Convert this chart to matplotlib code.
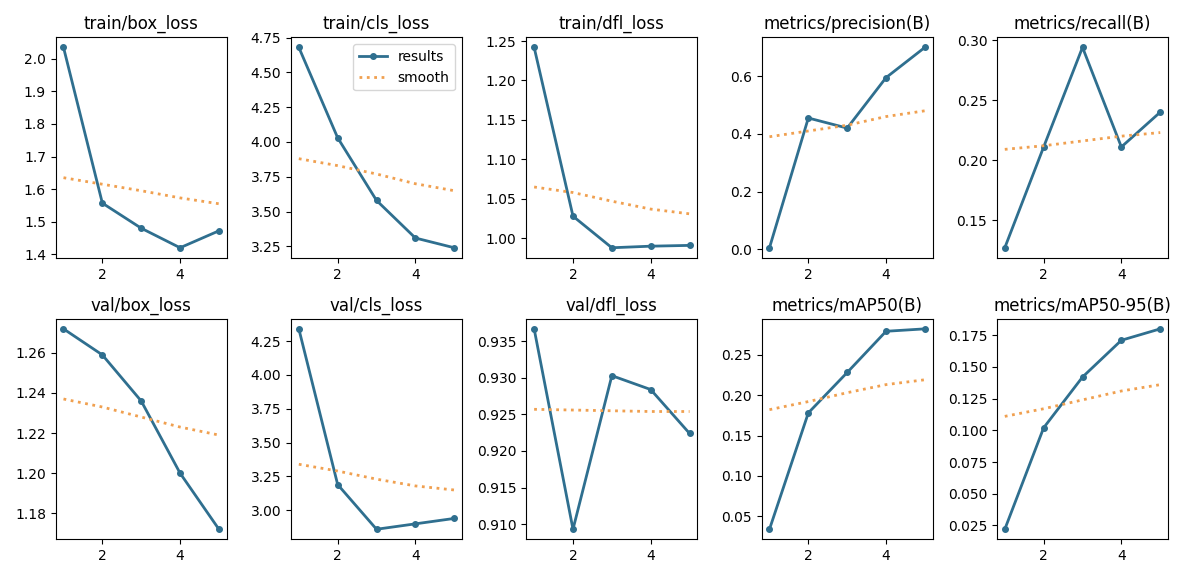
import matplotlib
matplotlib.use("Agg")
import matplotlib.pyplot as plt

epochs = [1, 2, 3, 4, 5]

titles = ["train/box_loss", "train/cls_loss", "train/dfl_loss",
          "metrics/precision(B)", "metrics/recall(B)",
          "val/box_loss", "val/cls_loss", "val/dfl_loss",
          "metrics/mAP50(B)", "metrics/mAP50-95(B)"]

train_box = [2.035, 1.557, 1.480, 1.420, 1.472]
train_cls = [4.68, 4.03, 3.58, 3.31, 3.24]
train_dfl = [1.242, 1.028, 0.988, 0.990, 0.991]
precision = [0.005, 0.455, 0.420, 0.595, 0.700]
recall = [0.127, 0.211, 0.294, 0.211, 0.240]
val_box = [1.272, 1.259, 1.236, 1.200, 1.172]
val_cls = [4.34, 3.19, 2.86, 2.90, 2.94]
val_dfl = [0.9367, 0.9093, 0.9303, 0.9284, 0.9224]
map50 = [0.034, 0.178, 0.228, 0.279, 0.282]
map5095 = [0.022, 0.102, 0.142, 0.171, 0.180]

# smoothed curves
s_train_box = [1.635, 1.615, 1.595, 1.573, 1.555]
s_train_cls = [3.88, 3.83, 3.77, 3.70, 3.65]
s_train_dfl = [1.065, 1.058, 1.047, 1.037, 1.031]
s_precision = [0.39, 0.41, 0.43, 0.46, 0.48]
s_recall = [0.209, 0.212, 0.216, 0.220, 0.223]
s_val_box = [1.237, 1.233, 1.228, 1.223, 1.219]
s_val_cls = [3.34, 3.29, 3.23, 3.18, 3.15]
s_val_dfl = [0.9257, 0.9256, 0.9255, 0.9254, 0.9254]
s_map50 = [0.182, 0.192, 0.203, 0.213, 0.219]
s_map5095 = [0.111, 0.117, 0.124, 0.131, 0.136]

series = [train_box, train_cls, train_dfl, precision, recall,
          val_box, val_cls, val_dfl, map50, map5095]
smooth = [s_train_box, s_train_cls, s_train_dfl, s_precision, s_recall,
          s_val_box, s_val_cls, s_val_dfl, s_map50, s_map5095]

fig, ax = plt.subplots(2, 5, figsize=(11.83, 5.78), dpi=100, tight_layout=True)
ax = ax.ravel()
for i in range(10):
    ax[i].plot(epochs, series[i], marker=".", label="results", linewidth=2,
               markersize=8, color="#2f6f8f")
    ax[i].plot(epochs, smooth[i], ":", label="smooth", linewidth=2, color="#f0a050")
    ax[i].set_title(titles[i], fontsize=12)
ax[1].legend()

fig.savefig("out.png", dpi=100)
